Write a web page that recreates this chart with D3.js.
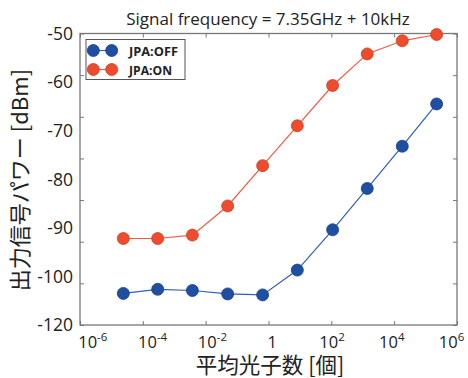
<!DOCTYPE html>
<html>
<head>
<meta charset="utf-8">
<script src="https://cdn.jsdelivr.net/npm/d3@7"></script>
<style>
  body { margin: 0; background: #fff; }
  svg { display: block; }
  text { font-family: "Open Sans", "Noto Sans", sans-serif; fill: #222; }
</style>
</head>
<body>
<div id="graph"></div>
<script>
// mean photon number (x) and output power in dBm for each series
const photons = [1.05e-5, 1.48e-4, 2.14e-3, 3.24e-2, 0.479, 6.92, 105, 1510, 22400, 316000];
const offPower = [-103.5, -102.65, -102.9, -103.6, -103.8, -98.7, -90.4, -81.9, -73.2, -64.5];
const onPower = [-92.2, -92.2, -91.5, -85.5, -77.2, -69.0, -60.7, -54.2, -51.5, -50.2];
const seriesNames = ['JPA:OFF', 'JPA:ON'];

const xTickExps = [-6, -4, -2, 0, 2, 4, 6];
const yTickVals = [-50, -60, -70, -80, -90, -100, -110];
const yTickLabels = ['-50', '-60', '-70', '-80', '-90', '-100', '-120'];

const w = 468;
const h = 378;
const padLeft = 80, padRight = 457, padTop = 33.5, padBottom = 325;
const colors = { fill: ['#1f4fa3', '#f04b2c'], stroke: ['#173f85', '#c2432a'], line: ['#2f5fb9', '#f45a40'] };

const svg = d3.select('#graph').append('svg')
  .attr('width', w)
  .attr('height', h);

// scales used for data and labels
const xScale = d3.scaleLog().domain([1e-6, 1e6]).range([92.8, 451.6]);
const yScale = d3.scaleLinear().domain([-110, -50]).range([padBottom, padTop]);
// scales used for the frame's tick marks
const xTick = d3.scaleLog().domain([1e-6, 1e6]).range([padLeft, padRight]);
const yTick = d3.scaleLinear().domain([-120, -50]).range([padBottom, padTop]);

//tick marks, pointing inward on all four sides
const tickVals = xTickExps.map(e => Math.pow(10, e));
function ticks(g) {
  g.select('.domain').remove();
  g.selectAll('line').attr('stroke', '#777').attr('stroke-width', 1);
}
svg.append('g').attr('transform', 'translate(0,' + padBottom + ')')
  .call(d3.axisBottom(xTick).tickValues(tickVals).tickSize(-4).tickFormat('')).call(ticks);
svg.append('g').attr('transform', 'translate(0,' + padTop + ')')
  .call(d3.axisTop(xTick).tickValues(tickVals).tickSize(-4).tickFormat('')).call(ticks);
svg.append('g').attr('transform', 'translate(' + padLeft + ',0)')
  .call(d3.axisLeft(yTick).ticks(7).tickSize(-4).tickFormat('')).call(ticks);
svg.append('g').attr('transform', 'translate(' + padRight + ',0)')
  .call(d3.axisRight(yTick).ticks(7).tickSize(-4).tickFormat('')).call(ticks);

svg.append('rect')
  .attr('x', padLeft).attr('y', padTop)
  .attr('width', padRight - padLeft).attr('height', padBottom - padTop)
  .attr('fill', 'none').attr('stroke', '#777').attr('stroke-width', 1.3);

// x tick labels with superscripts
const xl = svg.append('g').selectAll('text')
  .data(xTickExps)
  .enter()
  .append('text')
  .attr('x', d => xScale(Math.pow(10, d)))
  .attr('y', 347.5)
  .attr('text-anchor', 'middle')
  .attr('font-size', 16.5);
xl.append('tspan').text(d => d === 0 ? '1' : '10');
xl.filter(d => d !== 0).append('tspan')
  .attr('font-size', 11.5)
  .attr('dy', -7)
  .text(d => d < 0 ? '-' + (-d) : d);

// y tick labels
svg.append('g').selectAll('text')
  .data(yTickVals)
  .enter()
  .append('text')
  .attr('x', 73)
  .attr('y', d => yScale(d))
  .attr('dy', '0.36em')
  .attr('text-anchor', 'end')
  .attr('font-size', 17.5)
  .text((d, i) => yTickLabels[i]);

// lines and markers
const line = d3.line()
  .x((d, i) => xScale(photons[i]))
  .y(d => yScale(d));

[offPower, onPower].forEach((series, k) => {
  const g = svg.append('g');
  g.append('path')
    .attr('d', line(series))
    .attr('fill', 'none')
    .attr('stroke', colors.line[k])
    .attr('stroke-width', 1.2);
  g.selectAll('circle')
    .data(series)
    .enter()
    .append('circle')
    .attr('cx', (d, i) => xScale(photons[i]))
    .attr('cy', d => yScale(d))
    .attr('r', 6)
    .attr('fill', colors.fill[k])
    .attr('stroke', colors.stroke[k])
    .attr('stroke-width', 0.8);
});

// legend
const legend = svg.append('g');
legend.append('rect')
  .attr('x', 86).attr('y', 39.5)
  .attr('width', 99).attr('height', 40)
  .attr('fill', '#fff').attr('stroke', '#555').attr('stroke-width', 1);
seriesNames.forEach((name, k) => {
  const ly = 50.5 + k * 19;
  legend.append('line')
    .attr('x1', 93.3).attr('x2', 111.7)
    .attr('y1', ly).attr('y2', ly)
    .attr('stroke', colors.line[k]).attr('stroke-width', 1.2);
  [93.3, 111.7].forEach(cx => {
    legend.append('circle')
      .attr('cx', cx).attr('cy', ly).attr('r', 6)
      .attr('fill', colors.fill[k])
      .attr('stroke', colors.stroke[k]).attr('stroke-width', 0.8);
  });
  legend.append('text')
    .attr('x', 129).attr('y', ly + 5)
    .attr('font-size', 13)
    .attr('font-weight', 'bold')
    .attr('textLength', k === 0 ? 49 : 43)
    .attr('lengthAdjust', 'spacingAndGlyphs')
    .text(name);
});

// title and axis titles
svg.append('text')
  .attr('x', 268).attr('y', 25)
  .attr('text-anchor', 'middle')
  .attr('font-size', 17)
  .text('Signal frequency = 7.35GHz + 10kHz');

svg.append('text')
  .attr('x', 270).attr('y', 373)
  .attr('text-anchor', 'middle')
  .attr('font-size', 21.5)
  .style('font-family', '"Noto Sans CJK JP", sans-serif')
  .text('平均光子数 [個]');

svg.append('text')
  .attr('transform', 'translate(20,180) rotate(-90)')
  .attr('text-anchor', 'middle')
  .attr('dy', '0.35em')
  .attr('font-size', 22)
  .style('font-family', '"Noto Sans CJK JP", sans-serif')
  .text('出力信号パワー [dBm]');
</script>
</body>
</html>
